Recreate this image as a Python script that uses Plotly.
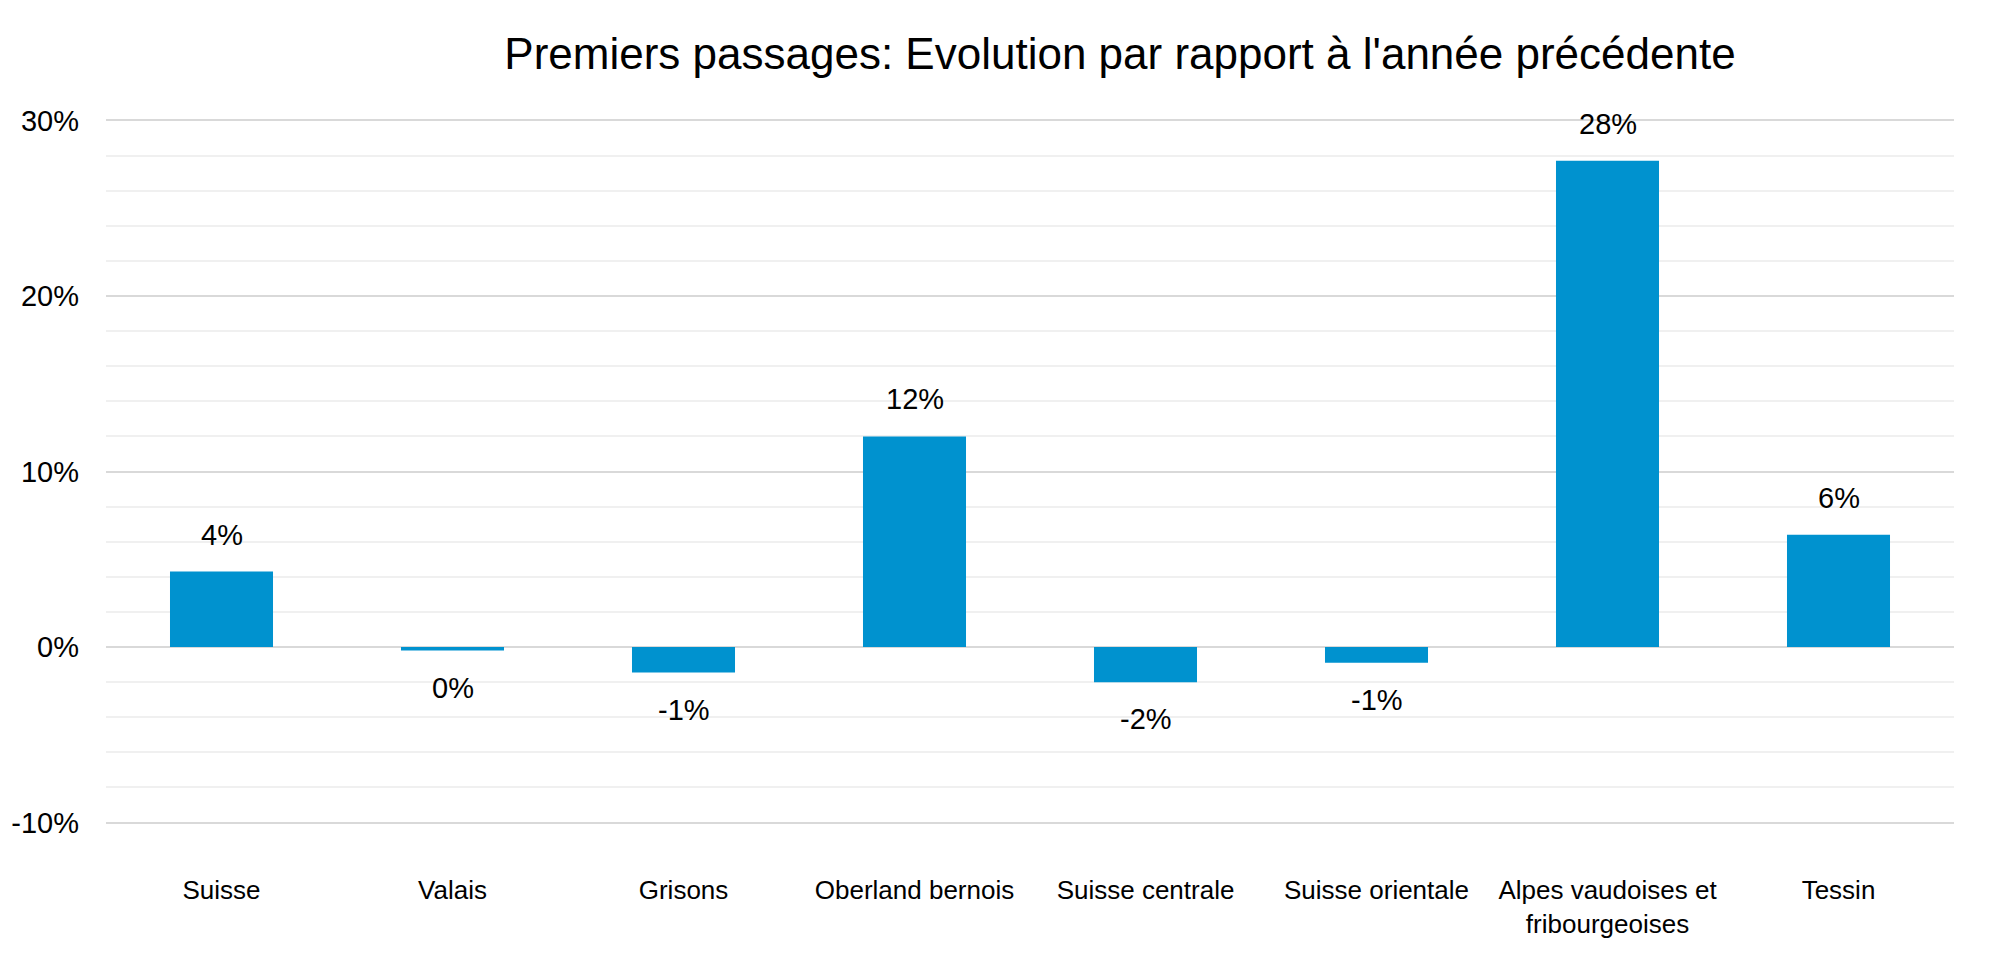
import plotly.graph_objects as go

categories = ["Suisse", "Valais", "Grisons", "Oberland bernois", "Suisse centrale",
              "Suisse orientale", "Alpes vaudoises et<br>fribourgeoises", "Tessin"]
values = [4.3, -0.2, -1.45, 12.0, -2.0, -0.9, 27.7, 6.4]
labels = [f"{round(v)}%" for v in values]
title_text = "Premiers passages: Evolution par rapport à l'année précédente"
y_ticks = [-10, 0, 10, 20, 30]
y_tick_text = ["-10%", "0%", "10%", "20%", "30%"]

FONT = "Liberation Sans, Arial, sans-serif"

fig = go.Figure()
fig.add_trace(go.Bar(
    x=categories, y=values,
    marker=dict(color="#0092cf", line=dict(width=0)),
    hoverinfo="skip",
))

for c, v, t in zip(categories, values, labels):
    fig.add_annotation(
        x=c, y=v, text=t, showarrow=False,
        yanchor="middle", yshift=37 if v >= 0 else -37,
        font=dict(family=FONT, size=29, color="#000000"),
    )

fig.update_layout(
    width=2000, height=963,
    paper_bgcolor="white", plot_bgcolor="white",
    margin=dict(l=98, r=54, t=111, b=147, autoexpand=False),
    bargap=0.554,
    showlegend=False,
    title=dict(text=title_text, x=0.556, xref="container", xanchor="center",
               y=1 - 46 / 963, yref="container", yanchor="middle",
               font=dict(family=FONT, size=44, color="#000000")),
    font=dict(family=FONT, color="#000000"),
)

fig.update_xaxes(
    showgrid=False, showline=False, zeroline=False,
    tickfont=dict(family=FONT, size=26, color="#000000"),
    ticklabelstandoff=48,
    range=[-0.5, 7.5],
    automargin=False,
)
fig.update_yaxes(
    range=[-10.08, 30.08],
    tickmode="array", tickvals=y_ticks, ticktext=y_tick_text,
    tickfont=dict(family=FONT, size=29, color="#000000"),
    showgrid=True, gridcolor="#d9d9d9", gridwidth=2,
    zeroline=True, zerolinecolor="#d9d9d9", zerolinewidth=2,
    showline=False,
    minor=dict(dtick=2, tick0=0, showgrid=True, gridcolor="#f0f0f0", gridwidth=2),
    ticklabelstandoff=26,
    automargin=False,
)

fig.write_html("out.html")
